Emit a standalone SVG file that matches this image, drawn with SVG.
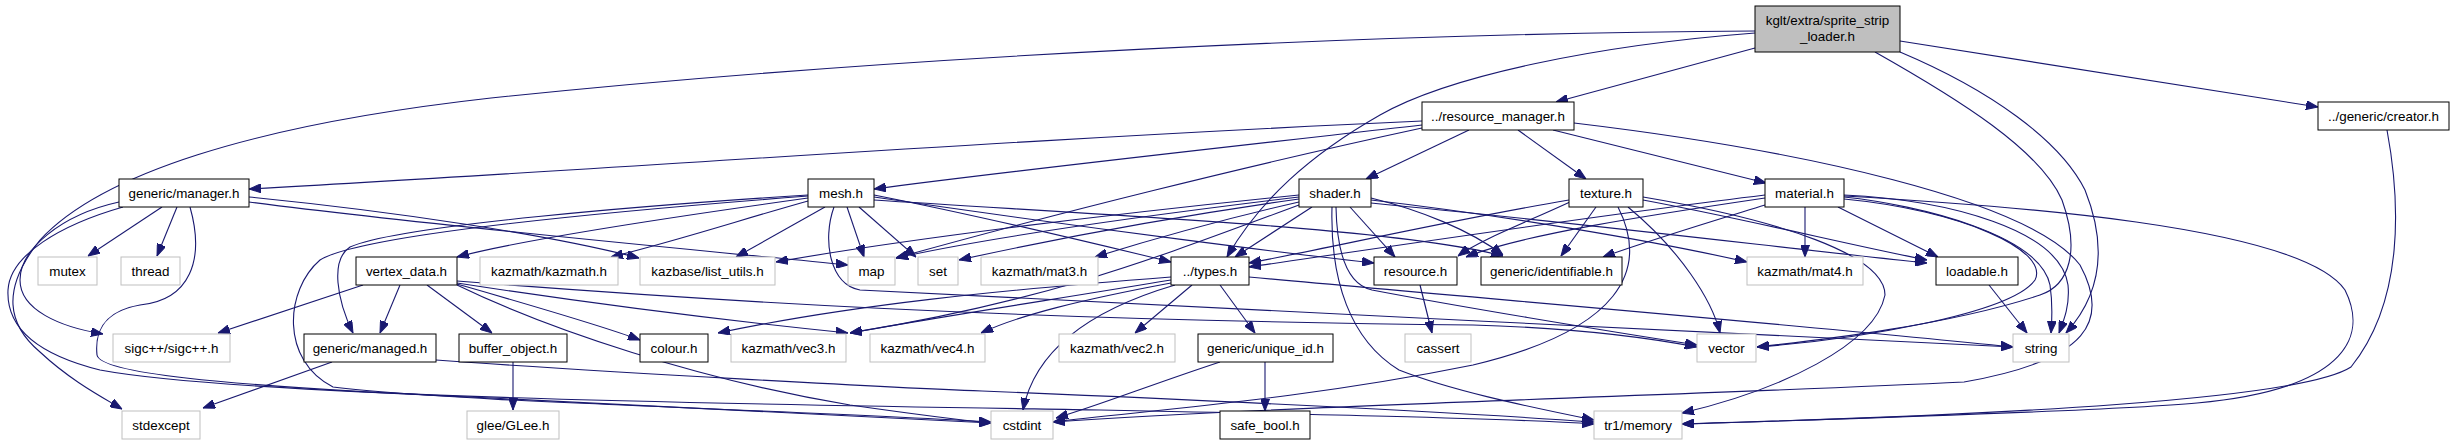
<svg xmlns="http://www.w3.org/2000/svg" width="2455" height="445" viewBox="0 0 2455 445">
<style>
.nd rect{fill:#fff;stroke:#000;stroke-width:1}
.ex rect{fill:#fff;stroke:#bfbfbf;stroke-width:1}
.rt rect{fill:#bfbfbf;stroke:#000;stroke-width:1}
text{font-family:"Liberation Sans",Arial,sans-serif;font-size:13.4px;fill:#000;text-anchor:middle}
#edges path{fill:none;stroke:#191970;stroke-width:1.1;marker-end:url(#ah)}
</style>
<defs>
<marker id="ah" markerUnits="userSpaceOnUse" markerWidth="12" markerHeight="9" refX="12" refY="4.5" orient="auto">
<path d="M0,0 L12,4.5 L0,9 z" fill="#191970" stroke="#191970" stroke-width="1"/>
</marker>
</defs>
<rect width="2455" height="445" fill="#fff"/>
<g id="edges">
<!-- sprite_strip_loader -->
<path d="M1755,48 L1556,102"/>
<path d="M1755,33 C1600,45 1450,75 1380,115 C1310,155 1260,200 1227,257"/>
<path d="M1900,41 L2318,107"/>
<path d="M1900,52 C1990,90 2060,140 2085,190 C2105,240 2105,290 2066,333"/>
<path d="M1875,52 C1960,100 2040,150 2062,200 C2080,250 2070,285 2040,295 C1950,325 1820,340 1757,347"/>
<path d="M1755,31 C1400,33 900,55 491,98 C250,125 100,175 40,240 C0,290 8,325 40,352 C70,380 100,396 122,409"/>
<!-- resource_manager -->
<path d="M1422,121 C1000,140 600,170 249,189"/>
<path d="M1422,125 C1200,150 1000,172 874,189"/>
<path d="M1422,128 C1250,165 1050,215 896,258"/>
<path d="M1469,130 L1366,179"/>
<path d="M1518,130 L1586,179"/>
<path d="M1553,130 L1766,183"/>
<path d="M1574,123 C1800,150 2030,200 2080,265 C2110,320 2090,360 1964,382 C1700,395 1300,405 1053,422"/>
<!-- generic/manager -->
<path d="M162,207 L88,256"/>
<path d="M177,207 L157,256"/>
<path d="M119,202 C60,215 20,250 20,280 C20,310 60,327 103,334"/>
<path d="M249,197 C400,212 550,235 639,258"/>
<path d="M249,202 C450,228 700,250 848,265"/>
<path d="M123,207 C60,225 10,255 8,290 C6,330 40,355 100,370 C250,398 800,405 1100,410 C1300,414 1500,418 1594,424"/>
<path d="M190,207 C205,260 190,300 140,305 C100,312 95,335 97,355 C100,372 200,385 491,398 C700,410 900,420 991,423"/>
<!-- mesh -->
<path d="M808,198 C650,220 520,240 457,257"/>
<path d="M808,201 C740,220 680,240 611,257"/>
<path d="M825,207 L736,257"/>
<path d="M847,207 L864,257"/>
<path d="M859,207 L916,257"/>
<path d="M808,195 C650,205 400,225 350,247 C330,260 337,300 353,333"/>
<path d="M808,196 C600,212 360,235 320,260 C285,290 280,360 333,387 C450,402 800,410 991,422"/>
<path d="M834,207 C822,240 830,285 860,290 C1100,305 1700,330 2013,347"/>
<path d="M874,195 C1000,220 1100,245 1171,262"/>
<path d="M874,197 C1100,230 1300,255 1374,263"/>
<path d="M874,200 C1100,215 1400,228 1503,256"/>
<!-- shader -->
<path d="M1312,207 L1235,257"/>
<path d="M1350,207 L1395,257"/>
<path d="M1299,195 C1100,215 900,240 776,262"/>
<path d="M1299,197 C1150,215 1000,235 896,258"/>
<path d="M1299,199 C1150,220 1050,240 959,260"/>
<path d="M1299,202 C1220,220 1150,240 1095,257"/>
<path d="M1299,205 C1150,260 1050,300 850,333"/>
<path d="M1332,207 C1330,280 1350,340 1399,370 C1450,390 1520,405 1594,420"/>
<path d="M1336,207 C1337,260 1350,285 1372,290 C1450,305 1600,330 1697,345"/>
<path d="M1371,198 C1420,210 1470,230 1503,255"/>
<path d="M1371,200 C1500,215 1650,240 1747,262"/>
<path d="M1371,203 C1600,225 1800,250 1927,263"/>
<!-- texture -->
<path d="M1569,200 C1450,220 1320,250 1249,263"/>
<path d="M1570,202 C1520,225 1480,240 1458,256"/>
<path d="M1596,207 L1561,256"/>
<path d="M1628,207 C1680,250 1712,300 1720,333"/>
<path d="M1643,197 C1780,220 1885,255 1885,295 C1875,345 1780,390 1682,413"/>
<path d="M1618,207 C1650,270 1620,330 1473,365 C1300,400 1150,410 1053,422"/>
<path d="M1643,200 C1750,220 1850,245 1927,260"/>
<!-- material -->
<path d="M1805,207 L1805,257"/>
<path d="M1838,207 L1938,257"/>
<path d="M1765,195 C1600,215 1400,245 1249,267"/>
<path d="M1765,198 C1650,215 1520,235 1466,257"/>
<path d="M1765,205 C1700,225 1650,240 1603,257"/>
<path d="M1844,195 C1950,200 2060,230 2068,285 C2070,305 2064,320 2059,333"/>
<path d="M1844,197 C1920,205 2040,235 2050,285 C2053,305 2052,320 2051,333"/>
<path d="M1844,199 C1960,210 2050,250 2035,280 C2010,315 1850,340 1757,347"/>
<path d="M1844,196 C2000,205 2300,225 2345,290 C2370,340 2340,390 2197,403 C2100,412 1800,420 1682,424"/>
<!-- creator -->
<path d="M2387,130 C2400,200 2405,300 2351,367 C2300,400 2000,415 1682,424"/>
<!-- vertex_data -->
<path d="M363,285 L218,333"/>
<path d="M400,285 L380,333"/>
<path d="M427,285 L492,333"/>
<path d="M457,284 C530,305 600,325 640,340"/>
<path d="M457,283 C600,305 720,320 848,333"/>
<path d="M457,281 C700,300 1000,320 1473,325 C1580,328 1650,338 1697,347"/>
<path d="M457,285 C550,330 700,380 850,405 C920,415 960,420 991,423"/>
<!-- managed, buffer_object -->
<path d="M332,362 L203,408"/>
<path d="M436,360 C600,372 900,388 982,391 C1200,400 1450,412 1594,422"/>
<path d="M513,362 L513,410"/>
<!-- types -->
<path d="M1171,277 C1000,290 850,305 718,333"/>
<path d="M1171,280 C1050,300 920,320 850,333"/>
<path d="M1171,283 C1080,300 1020,315 981,333"/>
<path d="M1192,285 L1135,333"/>
<path d="M1220,285 L1255,333"/>
<path d="M1175,285 C1090,310 1035,350 1023,410"/>
<path d="M1249,277 C1500,300 1800,325 2013,347"/>
<!-- unique_id, resource, loadable -->
<path d="M1220,362 C1150,385 1100,405 1056,418"/>
<path d="M1265,362 L1265,411"/>
<path d="M1420,285 L1432,333"/>
<path d="M1989,285 L2027,333"/>
</g>
<g id="n_root" class="rt"><rect x="1755" y="6" width="145" height="46"/><text x="1827.5" y="24.5">kglt/extra/sprite_strip</text><text x="1827.5" y="41">_loader.h</text></g>
<g id="n_resource_manager" class="nd"><rect x="1422" y="102" width="152" height="28"/><text x="1498" y="120.8">../resource_manager.h</text></g>
<g id="n_creator" class="nd"><rect x="2318" y="102" width="131" height="28"/><text x="2383.5" y="120.8">../generic/creator.h</text></g>
<g id="n_manager" class="nd"><rect x="119" y="179" width="130" height="28"/><text x="184" y="197.8">generic/manager.h</text></g>
<g id="n_mesh" class="nd"><rect x="808" y="179" width="66" height="28"/><text x="841" y="197.8">mesh.h</text></g>
<g id="n_shader" class="nd"><rect x="1299" y="179" width="72" height="28"/><text x="1335" y="197.8">shader.h</text></g>
<g id="n_texture" class="nd"><rect x="1569" y="179" width="74" height="28"/><text x="1606" y="197.8">texture.h</text></g>
<g id="n_material" class="nd"><rect x="1765" y="179" width="79" height="28"/><text x="1804.5" y="197.8">material.h</text></g>
<g id="n_mutex" class="ex"><rect x="38" y="257" width="59" height="28"/><text x="67.5" y="275.8">mutex</text></g>
<g id="n_thread" class="ex"><rect x="121" y="257" width="59" height="28"/><text x="150.5" y="275.8">thread</text></g>
<g id="n_vertex_data" class="nd"><rect x="356" y="257" width="101" height="28"/><text x="406.5" y="275.8">vertex_data.h</text></g>
<g id="n_kazmath" class="ex"><rect x="480" y="257" width="138" height="28"/><text x="549" y="275.8">kazmath/kazmath.h</text></g>
<g id="n_list_utils" class="ex"><rect x="640" y="257" width="135" height="28"/><text x="707.5" y="275.8">kazbase/list_utils.h</text></g>
<g id="n_map" class="ex"><rect x="848" y="257" width="47" height="28"/><text x="871.5" y="275.8">map</text></g>
<g id="n_set" class="ex"><rect x="918" y="257" width="40" height="28"/><text x="938" y="275.8">set</text></g>
<g id="n_mat3" class="ex"><rect x="981" y="257" width="117" height="28"/><text x="1039.5" y="275.8">kazmath/mat3.h</text></g>
<g id="n_types" class="nd"><rect x="1171" y="257" width="78" height="28"/><text x="1210" y="275.8">../types.h</text></g>
<g id="n_resource" class="nd"><rect x="1374" y="257" width="83" height="28"/><text x="1415.5" y="275.8">resource.h</text></g>
<g id="n_identifiable" class="nd"><rect x="1481" y="257" width="141" height="28"/><text x="1551.5" y="275.8">generic/identifiable.h</text></g>
<g id="n_mat4" class="ex"><rect x="1747" y="257" width="116" height="28"/><text x="1805" y="275.8">kazmath/mat4.h</text></g>
<g id="n_loadable" class="nd"><rect x="1936" y="257" width="82" height="28"/><text x="1977" y="275.8">loadable.h</text></g>
<g id="n_sigc" class="ex"><rect x="113" y="334" width="117" height="28"/><text x="171.5" y="352.8">sigc++/sigc++.h</text></g>
<g id="n_managed" class="nd"><rect x="304" y="334" width="132" height="28"/><text x="370" y="352.8">generic/managed.h</text></g>
<g id="n_buffer_object" class="nd"><rect x="459" y="334" width="108" height="28"/><text x="513" y="352.8">buffer_object.h</text></g>
<g id="n_colour" class="nd"><rect x="640" y="334" width="68" height="28"/><text x="674" y="352.8">colour.h</text></g>
<g id="n_vec3" class="ex"><rect x="731" y="334" width="115" height="28"/><text x="788.5" y="352.8">kazmath/vec3.h</text></g>
<g id="n_vec4" class="ex"><rect x="870" y="334" width="115" height="28"/><text x="927.5" y="352.8">kazmath/vec4.h</text></g>
<g id="n_vec2" class="ex"><rect x="1059" y="334" width="116" height="28"/><text x="1117" y="352.8">kazmath/vec2.h</text></g>
<g id="n_unique_id" class="nd"><rect x="1198" y="334" width="135" height="28"/><text x="1265.5" y="352.8">generic/unique_id.h</text></g>
<g id="n_cassert" class="ex"><rect x="1405" y="334" width="66" height="28"/><text x="1438" y="352.8">cassert</text></g>
<g id="n_vector" class="ex"><rect x="1697" y="334" width="59" height="28"/><text x="1726.5" y="352.8">vector</text></g>
<g id="n_string" class="ex"><rect x="2013" y="334" width="56" height="28"/><text x="2041" y="352.8">string</text></g>
<g id="n_stdexcept" class="ex"><rect x="122" y="411" width="78" height="28"/><text x="161" y="429.8">stdexcept</text></g>
<g id="n_glee" class="ex"><rect x="467" y="411" width="92" height="28"/><text x="513" y="429.8">glee/GLee.h</text></g>
<g id="n_cstdint" class="ex"><rect x="991" y="411" width="62" height="28"/><text x="1022" y="429.8">cstdint</text></g>
<g id="n_safe_bool" class="nd"><rect x="1220" y="411" width="90" height="28"/><text x="1265" y="429.8">safe_bool.h</text></g>
<g id="n_tr1_memory" class="ex"><rect x="1594" y="411" width="88" height="28"/><text x="1638" y="429.8">tr1/memory</text></g>
</svg>
